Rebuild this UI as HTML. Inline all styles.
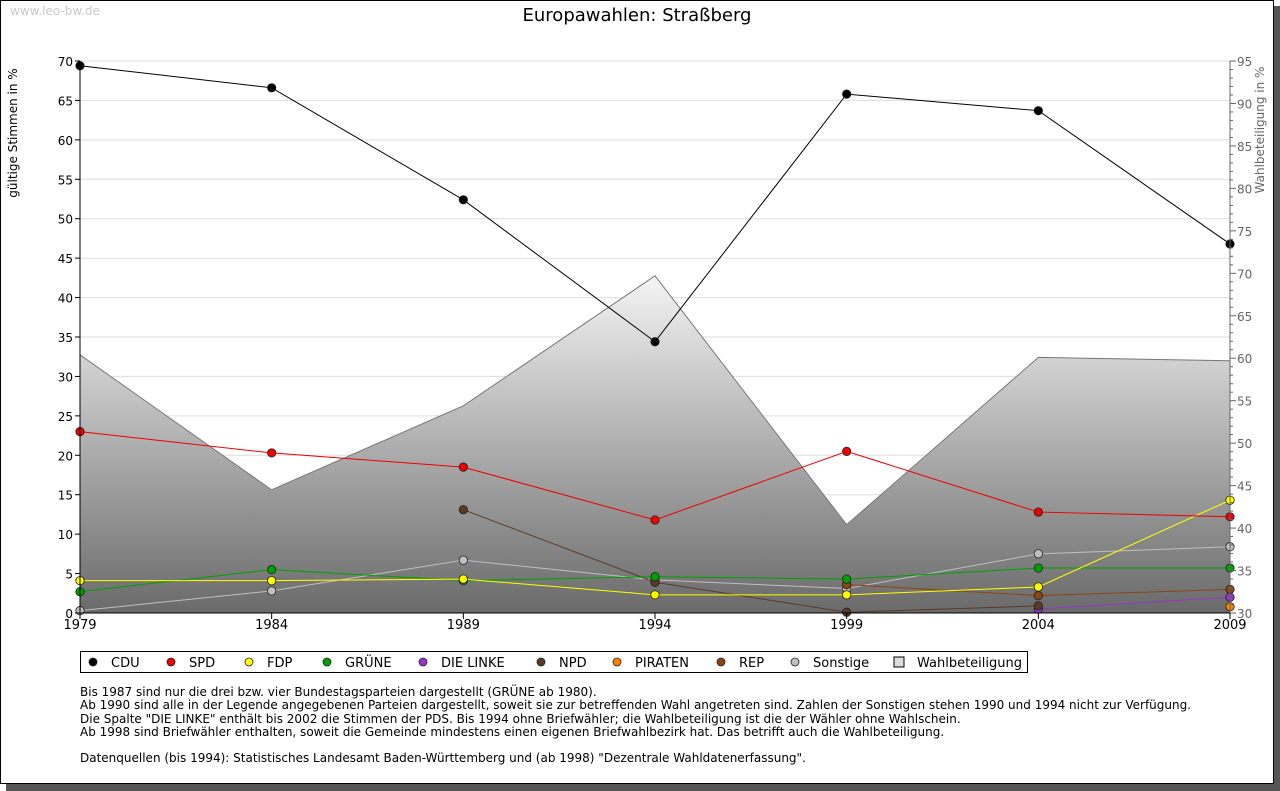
<!DOCTYPE html>
<html><head><meta charset="utf-8"><style>
body{margin:0;background:#fff;width:1280px;height:791px;overflow:hidden;font-family:"DejaVu Sans","Liberation Sans",sans-serif}
svg{position:absolute;left:0;top:0;font-family:"DejaVu Sans","Liberation Sans",sans-serif}
.notes{position:absolute;left:80px;top:686px;font-size:12px;line-height:13.3px;color:#000;white-space:pre}
</style></head><body>
<svg id="chart" width="1280" height="791" xmlns="http://www.w3.org/2000/svg">
<defs><linearGradient id="wg" gradientUnits="userSpaceOnUse" x1="0" y1="276" x2="0" y2="613"><stop offset="0" stop-color="#f4f4f4"/><stop offset="1" stop-color="#6a6a6a"/></linearGradient></defs>
<rect x="6" y="6" width="1274" height="785" fill="#555"/>
<rect x="0.5" y="0.5" width="1273" height="783" fill="#fff" stroke="#000"/>
<text x="10" y="15" font-size="12" fill="#c8c8c8">www.leo-bw.de</text>
<text x="637" y="21" font-size="18" text-anchor="middle">Europawahlen: Straßberg</text>
<text transform="translate(17,133) rotate(-90)" font-size="12" text-anchor="middle">gültige Stimmen in %</text>
<text transform="translate(1264,130) rotate(-90)" font-size="12" fill="#666" text-anchor="middle">Wahlbeteiligung in %</text>
<g id="grid"></g><g id="area"></g><g id="lines"></g><g id="axes"></g>
<g id="legend"></g>
</svg>
<div class="notes">Bis 1987 sind nur die drei bzw. vier Bundestagsparteien dargestellt (GRÜNE ab 1980).
Ab 1990 sind alle in der Legende angegebenen Parteien dargestellt, soweit sie zur betreffenden Wahl angetreten sind. Zahlen der Sonstigen stehen 1990 und 1994 nicht zur Verfügung.
Die Spalte "DIE LINKE" enthält bis 2002 die Stimmen der PDS. Bis 1994 ohne Briefwähler; die Wahlbeteiligung ist die der Wähler ohne Wahlschein.
Ab 1998 sind Briefwähler enthalten, soweit die Gemeinde mindestens einen eigenen Briefwahlbezirk hat. Das betrifft auch die Wahlbeteiligung.

Datenquellen (bis 1994): Statistisches Landesamt Baden-Württemberg und (ab 1998) "Dezentrale Wahldatenerfassung".</div>
<script>
const years=[1979,1984,1989,1994,1999,2004,2009];
const cdu=[69.4,66.6,52.4,34.4,65.8,63.7,46.8];
const spd=[23.0,20.3,18.5,11.8,20.5,12.8,12.2];
const fdp=[4.1,4.1,4.3,2.3,2.3,3.3,14.3];
const gruene=[2.7,5.5,4.1,4.6,4.3,5.7,5.7];
const linke=[null,null,null,null,null,0.5,2.0];
const npd=[null,null,13.1,3.9,0.1,0.9,null];
const piraten=[null,null,null,null,null,null,0.8];
const rep=[null,null,null,null,3.6,2.2,3.0];
const sonstige=[0.3,2.8,6.7,4.2,3.1,7.5,8.4];
const turnout=[60.4,44.5,54.4,69.7,40.4,60.1,59.7];
const leftTicks=[0,5,10,15,20,25,30,35,40,45,50,55,60,65,70];
const rightTicks=[30,35,40,45,50,55,60,65,70,75,80,85,90,95];
const NS="http://www.w3.org/2000/svg";
const X=y=>80+(y-1979)/30*1150;
const Y=v=>613-v/70*552;
const Y2=v=>613-(v-30)/65*552;
function mk(t,a,p){const e=document.createElementNS(NS,t);for(const k in a)e.setAttribute(k,a[k]);document.getElementById(p).appendChild(e);return e;}
leftTicks.forEach(t=>{
 if(t>0){const g=mk('line',{x1:80,x2:1230,y1:Y(t),y2:Y(t),stroke:'#ddd'},'grid');
 
 }
 const tk=mk('line',{x1:75,x2:80,y1:Y(t),y2:Y(t),stroke:'#000'},'axes');
 
 
 const l=mk('text',{x:73,y:Y(t)+5,'font-size':12,'text-anchor':'end'},'axes');l.textContent=t;
 
 
});
for(let v=30;v<=95;v++){const m=v%5==0;const tk=mk('line',{x1:1230,x2:m?1236:1233,y1:Y2(v),y2:Y2(v),stroke:'#666'},'axes');
 
 }
rightTicks.forEach(t=>{const l=mk('text',{x:1237,y:Y2(t)+5,'font-size':12,fill:'#666'},'axes');l.textContent=t;
 
 });
mk('line',{x1:80,x2:80,y1:61,y2:613,stroke:'#000'},'axes');
mk('line',{x1:1230,x2:1230,y1:61,y2:613,stroke:'#666'},'axes');
mk('line',{x1:80,x2:1230,y1:613,y2:613,stroke:'#000'},'axes');
years.forEach(y=>{const tk=mk('line',{x1:X(y),x2:X(y),y1:613,y2:619,stroke:'#000'},'axes');
 
 
 const l=mk('text',{x:X(y),y:629,'font-size':13,'text-anchor':'middle'},'axes');l.textContent=y;
 
 });
let d='M'+X(years[0])+' 613';years.forEach((y,i)=>d+=' L'+X(y)+' '+Y2(turnout[i]));d+=' L'+X(2009)+' 613 Z';
const ar=mk('path',{d:d,fill:'url(#wg)',stroke:'#777'},'area');


const series=[['cdu',cdu,'#000'],['sonstige',sonstige,'#c0c0c0'],['linke',linke,'#9933cc'],['npd',npd,'#5a3a28'],['rep',rep,'#8b4513'],['gruene',gruene,'#00a000'],['fdp',fdp,'#ffff00'],['spd',spd,'#ee0000'],['piraten',piraten,'#ff8000']];
series.forEach(([n,vals,c])=>{
 let p='';vals.forEach((v,i)=>{if(v==null)return;p+=(p?' L':'M')+X(years[i])+' '+Y(v);});
 const ln=mk('path',{d:p,fill:'none',stroke:c,'stroke-width':1},'lines');
 
 
 vals.forEach((v,i)=>{if(v==null)return;const m=mk('circle',{cx:X(years[i]),cy:Y(v),r:4.2,fill:c,stroke:'#222','stroke-width':0.8},'lines');
  
  });
});
const lg=mk('rect',{x:80.5,y:651.5,width:947,height:21,fill:'#fff',stroke:'#000'},'legend');


const items=[['CDU','#000',93],['SPD','#ee0000',171],['FDP','#ffff00',249],['GRÜNE','#00a000',327],['DIE LINKE','#9933cc',423],['NPD','#5a3a28',541],['PIRATEN','#ff8000',617],['REP','#8b4513',721],['Sonstige','#c0c0c0',795],['Wahlbeteiligung','#ddd',899]];
items.forEach(([t,c,x],i)=>{
 let m;
 if(i==9)m=mk('rect',{x:x-5,y:657,width:10,height:10,fill:c,stroke:'#000'},'legend');
 else m=mk('circle',{cx:x,cy:662,r:4,fill:c,stroke:'#222','stroke-width':0.8},'legend');
 
 
 const l=mk('text',{x:x+18,y:667,'font-size':13},'legend');l.textContent=t;
 
 
});
</script>
</body></html>
